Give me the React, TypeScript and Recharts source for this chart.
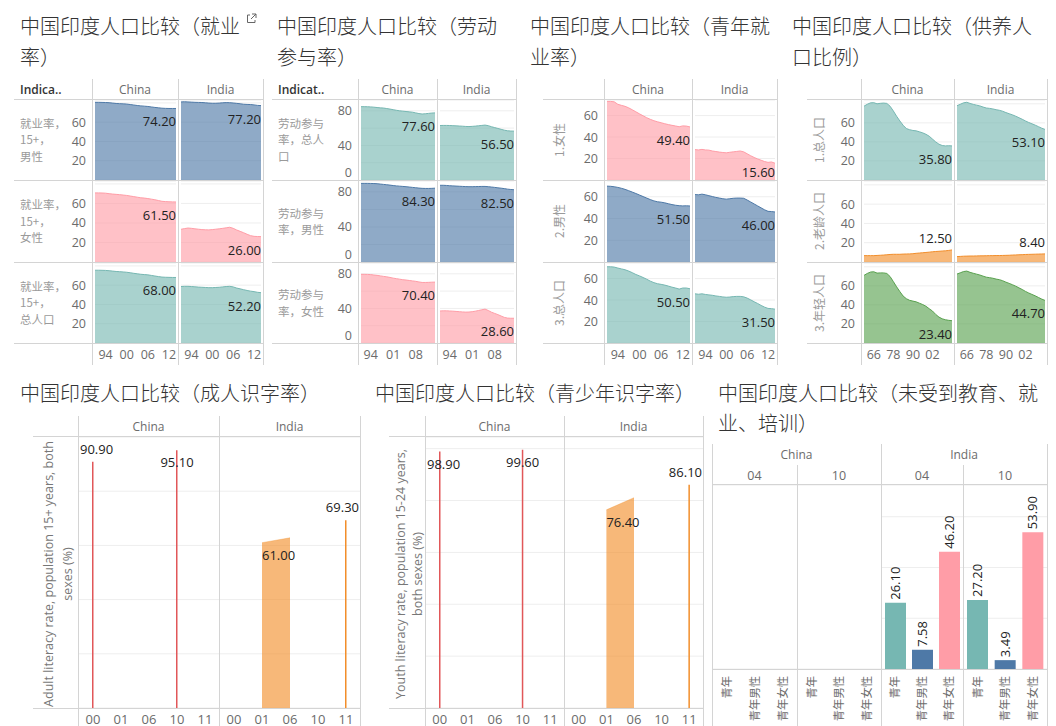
import React from "react";
import {
  AreaChart, Area, BarChart, Bar, Cell, ComposedChart,
  XAxis, YAxis, CartesianGrid, LabelList,
} from "recharts";

const SANS = "'Open Sans', 'Noto Sans CJK SC', sans-serif";
const CJK = "'Noto Sans CJK SC', 'Open Sans', sans-serif";

const BLUE = "#4e79a7";
const ORANGE = "#f28e2b";
const RED = "#e15759";
const TEAL = "#76b7b2";
const GREEN = "#59a14f";
const PINK = "#ff9da7";
const RULE = "#d4d4d4";
const FAINT = "#eeeeee";
const TICK = "#6b6b6b";
const ROWLBL = "#9a9a9a";
const INK = "#333333";

// ---------- data: employment / labour (1991-2014) ----------
const yearsLab = [1991, 1992, 1993, 1994, 1995, 1996, 1997, 1998, 1999, 2000, 2001, 2002,
  2003, 2004, 2005, 2006, 2007, 2008, 2009, 2010, 2011, 2012, 2013, 2014];

const empChinaMale = [80.6, 80.6, 80.5, 80.4, 80.2, 79.8, 79.4, 79.2, 79.0, 78.8, 78.3, 77.8,
  77.3, 76.9, 76.6, 76.3, 75.8, 75.3, 74.9, 74.5, 74.3, 74.2, 74.2, 74.2];
const empIndiaMale = [81.0, 81.2, 81.0, 80.8, 80.6, 80.5, 80.4, 80.1, 79.8, 79.6, 79.6, 79.8,
  80.1, 80.3, 80.2, 79.9, 79.5, 79.1, 78.6, 78.4, 78.3, 77.9, 77.4, 77.2];
const empChinaFemale = [70.8, 70.8, 70.7, 70.5, 70.0, 69.6, 69.3, 69.0, 68.6, 68.2, 67.6, 67.0,
  66.4, 65.8, 65.5, 65.0, 64.4, 63.8, 63.0, 62.2, 61.9, 61.7, 61.6, 61.5];
const empIndiaFemale = [33.5, 34.2, 34.8, 34.5, 34.0, 33.6, 33.2, 33.0, 32.9, 33.2, 33.6, 34.0,
  34.5, 35.0, 35.6, 34.5, 32.8, 31.4, 30.0, 28.4, 27.0, 26.3, 26.1, 26.0];
const empChinaTotal = [75.5, 75.5, 75.4, 75.3, 75.0, 74.6, 74.2, 74.0, 73.7, 73.4, 72.9, 72.3,
  71.8, 71.3, 71.0, 70.7, 70.1, 69.5, 68.9, 68.4, 68.2, 68.1, 68.0, 68.0];
const empIndiaTotal = [58.6, 58.8, 58.8, 58.6, 58.3, 58.0, 57.8, 57.6, 57.4, 57.4, 57.6, 57.8,
  58.2, 58.6, 58.8, 58.2, 57.0, 56.2, 55.3, 54.5, 53.8, 53.3, 52.6, 52.2];

const lfpChinaTotal = [84.8, 84.8, 84.7, 84.5, 84.2, 83.8, 83.4, 83.2, 82.6, 82.0, 81.3, 80.6,
  80.0, 79.6, 79.2, 78.8, 78.4, 77.6, 76.8, 76.3, 76.6, 77.0, 77.4, 77.6];
const lfpIndiaTotal = [63.0, 63.1, 63.1, 63.0, 62.8, 62.6, 62.4, 62.2, 61.9, 61.8, 62.0, 62.3,
  62.7, 63.1, 63.5, 62.8, 61.6, 60.6, 59.6, 58.6, 57.6, 56.9, 56.6, 56.5];
const lfpChinaMale = [89.8, 89.8, 89.8, 89.7, 89.6, 89.4, 89.0, 88.6, 88.2, 87.8, 87.3, 86.9,
  86.6, 86.3, 86.0, 85.6, 85.2, 84.8, 84.4, 84.1, 84.0, 84.0, 84.1, 84.3];
const lfpIndiaMale = [87.6, 87.6, 87.4, 87.1, 86.9, 86.7, 86.5, 86.3, 86.1, 86.0, 86.0, 86.1,
  86.2, 86.3, 86.3, 86.0, 85.6, 85.2, 84.7, 84.3, 83.8, 83.2, 82.8, 82.5];
const lfpChinaFemale = [79.4, 79.4, 79.3, 79.1, 78.6, 78.2, 77.6, 77.0, 76.5, 75.8, 75.0, 74.4,
  73.8, 73.2, 72.8, 72.3, 71.8, 71.3, 70.6, 70.0, 70.0, 70.1, 70.3, 70.4];
const lfpIndiaFemale = [37.0, 37.2, 37.2, 37.0, 36.8, 36.5, 36.2, 35.9, 35.7, 35.8, 36.2, 36.8,
  37.6, 38.4, 39.2, 37.6, 35.6, 34.2, 32.8, 31.2, 29.6, 28.8, 28.6, 28.6];

const youthChinaFemale = [73.2, 73.2, 72.8, 70.5, 69.5, 68.6, 67.2, 65.4, 63.5, 61.6, 59.8, 58.0,
  56.5, 55.2, 54.2, 53.3, 52.4, 51.6, 50.9, 50.3, 49.6, 50.4, 50.2, 49.4];
const youthIndiaFemale = [28.3, 28.0, 28.5, 28.0, 27.8, 27.0, 26.5, 26.0, 25.6, 25.3, 25.8, 26.2,
  26.6, 27.0, 26.2, 24.4, 22.6, 21.0, 19.6, 18.4, 17.2, 16.4, 16.8, 15.6];
const youthChinaMale = [69.8, 69.6, 69.2, 68.6, 67.8, 66.8, 65.6, 64.3, 63.0, 61.6, 60.2, 58.8,
  57.4, 56.2, 55.4, 55.0, 54.4, 53.6, 52.8, 52.2, 51.8, 51.6, 51.7, 51.5];
const youthIndiaMale = [62.0, 61.8, 62.4, 61.8, 61.0, 60.2, 59.4, 58.8, 58.2, 57.8, 58.2, 58.6,
  58.8, 58.8, 58.6, 57.0, 55.2, 53.4, 51.6, 49.8, 48.0, 46.6, 46.4, 46.0];
const youthChinaTotal = [71.0, 71.0, 70.7, 69.8, 69.0, 68.2, 67.0, 65.5, 63.8, 62.5, 61.0, 59.4,
  57.6, 56.2, 55.2, 54.6, 53.9, 53.0, 52.0, 51.2, 50.2, 51.2, 51.2, 50.5];
const youthIndiaTotal = [45.8, 45.4, 45.8, 45.2, 44.8, 44.4, 43.8, 43.4, 42.9, 42.6, 42.8, 43.2,
  43.4, 43.4, 43.0, 41.8, 40.2, 38.4, 36.8, 35.0, 33.4, 32.2, 32.0, 31.5];

// ---------- data: dependency ratio (1960-2014) ----------
const yearsDep = [1960, 1962, 1964, 1966, 1968, 1970, 1972, 1974, 1976, 1978, 1980, 1982, 1984, 1986,
  1988, 1990, 1992, 1994, 1996, 1998, 2000, 2002, 2004, 2006, 2008, 2010, 2012, 2014];

const depChinaTotal = [77.5, 79.5, 81.0, 81.2, 80.0, 80.5, 80.8, 80.4, 77.5, 72.5, 67.0, 62.0, 57.5, 54.0,
  52.8, 52.0, 51.6, 50.6, 49.5, 48.0, 46.0, 43.0, 40.0, 37.6, 36.2, 35.8, 36.0, 35.8];
const depIndiaTotal = [78.0, 79.5, 81.0, 81.6, 80.4, 79.4, 78.6, 77.8, 76.6, 75.6, 75.2, 74.6, 73.8, 73.2,
  72.2, 70.8, 69.6, 68.4, 67.0, 65.4, 63.8, 62.0, 60.4, 59.0, 57.6, 56.0, 54.4, 53.1];
const depChinaOld = [6.6, 6.6, 6.6, 6.6, 6.8, 7.0, 7.2, 7.5, 7.8, 8.0, 8.0, 8.0, 8.2, 8.3,
  8.4, 8.6, 9.0, 9.3, 9.6, 9.9, 10.2, 10.6, 10.9, 11.1, 11.4, 11.6, 12.0, 12.5];
const depIndiaOld = [5.6, 5.8, 6.0, 6.1, 6.2, 6.2, 6.3, 6.4, 6.4, 6.5, 6.6, 6.6, 6.7, 6.7,
  6.8, 6.9, 7.0, 7.2, 7.3, 7.5, 7.6, 7.8, 7.9, 8.0, 8.1, 8.2, 8.3, 8.4];
const depChinaYoung = [71.0, 73.0, 74.5, 74.8, 73.4, 73.6, 73.6, 73.0, 69.8, 64.5, 59.0, 54.0, 49.3, 46.5,
  44.8, 44.0, 43.2, 41.8, 40.4, 38.6, 36.0, 33.6, 30.0, 27.2, 25.4, 24.4, 23.8, 23.4];
const depIndiaYoung = [72.4, 73.7, 75.0, 75.5, 74.2, 73.2, 72.3, 71.4, 70.2, 69.1, 68.6, 68.0, 67.1, 66.5,
  65.4, 63.9, 62.6, 61.2, 59.7, 57.9, 56.2, 54.2, 52.5, 51.0, 49.5, 47.8, 46.1, 44.7];

// ---------- data: literacy ----------
const litCats = ["00", "01", "06", "10", "11"];
const adultChina = [90.9, null, null, 95.1, null];
const adultIndia = [null, 61.0, 62.8, null, 69.3];
const youthLitChina = [98.9, null, null, 99.6, null];
const youthLitIndia = [null, 76.4, 81.1, null, 86.1];

// ---------- data: NEET ----------
const neetCats = ["青年", "青年男性", "青年女性"];
const neetColors = [TEAL, BLUE, PINK];
const neetChina04 = [null, null, null];
const neetChina10 = [null, null, null];
const neetIndia04 = [26.1, 7.58, 46.2];
const neetIndia10 = [27.2, 3.49, 53.9];

// ---------- helpers ----------
const HLine = ({ x1, x2, y }: any) => (
  <div style={{ position: "absolute", left: x1, top: y, width: x2 - x1, height: 1, background: RULE }} />
);
const VLine = ({ x, y1, y2 }: any) => (
  <div style={{ position: "absolute", left: x, top: y1, width: 1, height: y2 - y1, background: RULE }} />
);
const Txt = ({ x, y, children, size = 12.5, color = TICK, align = "center", weight = 400, font = SANS }: any) => {
  const tx = align === "center" ? "-50%" : align === "right" ? "-100%" : "0";
  return (
    <div style={{
      position: "absolute", left: x, top: y, transform: `translate(${tx}, -50%)`,
      fontSize: size, color, fontWeight: weight, fontFamily: font, whiteSpace: "nowrap", lineHeight: 1.2,
    }}>{children}</div>
  );
};
const Title = ({ x, y, lines, lh }: any) => (
  <div style={{
    position: "absolute", left: x, top: y, fontFamily: CJK, fontSize: 20, fontWeight: 300,
    color: INK, lineHeight: `${lh}px`, whiteSpace: "nowrap",
  }}>
    {lines.map((l: string) => <div key={l}>{l}</div>)}
  </div>
);

const NoTick = () => <g />;

const YTick = (props: any) => {
  const { x, y, payload, labeled } = props;
  if (!labeled.includes(payload.value)) return <g />;
  const shift = payload.value === 0 ? -8 : 0;
  return (
    <text x={x} y={y + shift} dy={4.5} textAnchor="end" fill={TICK} fontSize={12.5} fontFamily={SANS}>
      {payload.value}
    </text>
  );
};

function EndLabel(props: any) {
  const { x, y, value, index, lastIdx, plotH } = props;
  if (index !== lastIdx || value == null || y == null) return null;
  let ly = Math.min(y + 13.5, plotH - 8);
  if (ly - y < 8) ly = y - 11;
  return (
    <text x={x} y={ly} dy={4.5} textAnchor="end" fill="#222" fontSize={13} fontFamily={SANS}>
      {Number(value).toFixed(2)}
    </text>
  );
}

// ---------- top small-multiple panels ----------
interface RowCfg { label: string[]; color: string; china: number[]; india: number[] }
interface TopCfg {
  title: string[]; titleX: number; header?: string; rowLabelX: number; rotated: boolean;
  ruleLeft: number; cols: number[]; years: number[]; yMax: number; grid: number[];
  labeled: number[]; xTicks: number[]; rows: RowCfg[]; link?: boolean;
}
const ROW_Y = [99, 180, 262, 343];

function AreaCell({ values, color, cfg, x, y, w, h, first, last }: any) {
  const data = cfg.years.map((yr: number, i: number) => ({ yr, v: values[i] }));
  const yW = first ? 40 : 0;
  const axisH = last ? 24 : 0;
  const lastIdx = data.length - 1;
  return (
    <div style={{ position: "absolute", left: x - yW, top: y }}>
      <AreaChart width={w + yW} height={h + axisH} data={data} margin={{ top: 0, right: 2, bottom: 0, left: 2 }}>
        <CartesianGrid vertical={false} stroke={FAINT} />
        <XAxis
          dataKey="yr" type="number" domain={[cfg.years[0], cfg.years[lastIdx]]}
          ticks={cfg.xTicks} hide={!last} height={axisH} interval={0}
          tickFormatter={(v) => String(v).slice(2)}
          axisLine={false} tickLine={false} tickSize={0} tickMargin={7}
          tick={{ fill: TICK, fontSize: 12.5, fontFamily: SANS }}
        />
        <YAxis
          type="number" domain={[0, cfg.yMax]} ticks={cfg.grid} width={yW} interval={0}
          axisLine={false} tickLine={false} tickSize={0} tickMargin={9} allowDataOverflow
          tick={first ? <YTick labeled={cfg.labeled} /> : <NoTick />}
        />
        <Area
          type="linear" dataKey="v" stroke={color} strokeWidth={1} fill={color} fillOpacity={0.63}
          isAnimationActive={false} dot={false} activeDot={false}
        >
          <LabelList dataKey="v" content={(p: any) => <EndLabel {...p} lastIdx={lastIdx} plotH={h} />} />
        </Area>
      </AreaChart>
    </div>
  );
}

function TopPanel({ cfg }: { cfg: TopCfg }) {
  const [x0, x1, x2] = cfg.cols;
  return (
    <>
      <Title x={cfg.titleX} y={10} lines={cfg.title} lh={31} />
      {cfg.link && (
        <svg style={{ position: "absolute", left: 246, top: 13 }} width={11} height={11} viewBox="0 0 11 11">
          <path d="M4 2 H1.5 V9.5 H9 V7" fill="none" stroke="#666" strokeWidth={1} />
          <path d="M6 1 H10 V5 M10 1 L5 6" fill="none" stroke="#666" strokeWidth={1} />
        </svg>
      )}
      {cfg.header && <Txt x={cfg.rowLabelX} y={90} align="left" color={INK} weight={600} size={12}>{cfg.header}</Txt>}
      <Txt x={(x0 + x1) / 2} y={90} size={12}>China</Txt>
      <Txt x={(x1 + x2) / 2} y={90} size={12}>India</Txt>
      {cfg.rows.map((r, i) => {
        const top = ROW_Y[i] + 1;
        const h = ROW_Y[i + 1] - ROW_Y[i] - 1;
        const last = i === cfg.rows.length - 1;
        const cy = (ROW_Y[i] + ROW_Y[i + 1]) / 2;
        return (
          <React.Fragment key={i}>
            <AreaCell values={r.china} color={r.color} cfg={cfg} x={x0 + 1} y={top} w={x1 - x0 - 1} h={h} first last={last} />
            <AreaCell values={r.india} color={r.color} cfg={cfg} x={x1 + 1} y={top} w={x2 - x1 - 1} h={h} first={false} last={last} />
            {cfg.rotated ? (
              <div style={{
                position: "absolute", left: cfg.rowLabelX, top: cy, transform: "translate(-50%, -50%) rotate(-90deg)",
                fontFamily: CJK, fontSize: 12, color: ROWLBL, whiteSpace: "nowrap",
              }}>{r.label.join("")}</div>
            ) : (
              <div style={{
                position: "absolute", left: cfg.rowLabelX, top: cy - (r.label.length * 16.5) / 2,
                fontFamily: CJK, fontSize: 11.5, color: ROWLBL, lineHeight: "16.5px", whiteSpace: "nowrap",
              }}>
                {r.label.map((l) => <div key={l}>{l}</div>)}
              </div>
            )}
          </React.Fragment>
        );
      })}
      {ROW_Y.map((y) => <HLine key={y} x1={cfg.ruleLeft} x2={x2 + 1} y={y} />)}
      {cfg.cols.map((x) => <VLine key={x} x={x} y1={79} y2={365} />)}
    </>
  );
}

const panels: TopCfg[] = [
  {
    title: ["中国印度人口比较（就业", "率）"], titleX: 20, header: "Indica..", rowLabelX: 20, rotated: false,
    ruleLeft: 14, cols: [92, 178, 263], years: yearsLab, yMax: 83, grid: [20, 40, 60, 80],
    labeled: [20, 40, 60], xTicks: [1994, 2000, 2006, 2012], link: true,
    rows: [
      { label: ["就业率，", "15+，", "男性"], color: BLUE, china: empChinaMale, india: empIndiaMale },
      { label: ["就业率，", "15+，", "女性"], color: PINK, china: empChinaFemale, india: empIndiaFemale },
      { label: ["就业率，", "15+，", "总人口"], color: TEAL, china: empChinaTotal, india: empIndiaTotal },
    ],
  },
  {
    title: ["中国印度人口比较（劳动", "参与率）"], titleX: 277, header: "Indicat..", rowLabelX: 278, rotated: false,
    ruleLeft: 272, cols: [358, 437, 516], years: yearsLab, yMax: 92.5, grid: [0, 20, 40, 60, 80],
    labeled: [0, 40, 80], xTicks: [1994, 2001, 2008],
    rows: [
      { label: ["劳动参与", "率，总人", "口"], color: TEAL, china: lfpChinaTotal, india: lfpIndiaTotal },
      { label: ["劳动参与", "率，男性"], color: BLUE, china: lfpChinaMale, india: lfpIndiaMale },
      { label: ["劳动参与", "率，女性"], color: PINK, china: lfpChinaFemale, india: lfpIndiaFemale },
    ],
  },
  {
    title: ["中国印度人口比较（青年就", "业率）"], titleX: 530, rowLabelX: 558, rotated: true,
    ruleLeft: 543, cols: [604, 692, 777], years: yearsLab, yMax: 74.5, grid: [20, 40, 60],
    labeled: [20, 40, 60], xTicks: [1994, 2000, 2006, 2012],
    rows: [
      { label: ["1.女性"], color: PINK, china: youthChinaFemale, india: youthIndiaFemale },
      { label: ["2.男性"], color: BLUE, china: youthChinaMale, india: youthIndiaMale },
      { label: ["3.总人口"], color: TEAL, china: youthChinaTotal, india: youthIndiaTotal },
    ],
  },
  {
    title: ["中国印度人口比较（供养人", "口比例）"], titleX: 792, rowLabelX: 818, rotated: true,
    ruleLeft: 807, cols: [861, 954, 1047], years: yearsDep, yMax: 84, grid: [20, 40, 60, 80],
    labeled: [20, 40, 60], xTicks: [1966, 1978, 1990, 2002],
    rows: [
      { label: ["1.总人口"], color: TEAL, china: depChinaTotal, india: depIndiaTotal },
      { label: ["2.老龄人口"], color: ORANGE, china: depChinaOld, india: depIndiaOld },
      { label: ["3.年轻人口"], color: GREEN, china: depChinaYoung, india: depIndiaYoung },
    ],
  },
];

// ---------- literacy panels ----------
const LIT_TOP = 437;
const LIT_BOTTOM = 708;

function LitLabel(props: any) {
  const { x, y, value, index, vals, w } = props;
  if (value == null || y == null || x == null) return null;
  const prev = index > 0 ? vals[index - 1] : null;
  const next = index < vals.length - 1 ? vals[index + 1] : null;
  const txt = Number(value).toFixed(2);
  const style = { fill: "#222", fontSize: 13, fontFamily: SANS };
  if (prev == null && next != null) {
    return <text x={x} y={y + 13} dy={4.5} textAnchor="start" {...style}>{txt}</text>;
  }
  if (prev != null || next != null) return null;
  const ly = y - 20 >= 0 ? y - 12.5 : y + 12.5;
  const tw = 34;
  let lx = x;
  let anchor = "middle";
  if (x - tw / 2 < 0) { lx = 1; anchor = "start"; }
  else if (x + tw / 2 > w) { lx = w - 1; anchor = "end"; }
  return <text x={lx} y={ly} dy={4.5} textAnchor={anchor} {...style}>{txt}</text>;
}

function LitPane({ values, color, x, w, yMax, grid }: any) {
  const data = litCats.map((c, i) => ({ c, v: values[i] }));
  const h = LIT_BOTTOM - LIT_TOP;
  return (
    <div style={{ position: "absolute", left: x, top: LIT_TOP }}>
      <ComposedChart width={w} height={h + 26} data={data} margin={{ top: 0, right: 0, bottom: 0, left: 0 }}>
        <CartesianGrid vertical={false} stroke={FAINT} />
        <XAxis
          dataKey="c" height={26} interval={0} axisLine={false} tickLine={false} tickSize={0} tickMargin={7}
          tick={{ fill: TICK, fontSize: 13, fontFamily: SANS }}
        />
        <YAxis domain={[0, yMax]} ticks={grid} width={0} interval={0} tick={<NoTick />} axisLine={false} tickLine={false} allowDataOverflow />
        <Bar dataKey="v" barSize={1.5} fill={color} isAnimationActive={false}>
          {values.map((v: any, i: number) => {
            const isolated = v != null && values[i - 1] == null && values[i + 1] == null;
            return <Cell key={i} fill={color} fillOpacity={isolated ? 1 : 0} />;
          })}
        </Bar>
        <Area
          type="linear" dataKey="v" stroke={color} strokeOpacity={0.35} fill={color} fillOpacity={0.63}
          isAnimationActive={false} dot={false} activeDot={false}
        >
          <LabelList dataKey="v" content={(p: any) => <LitLabel {...p} vals={values} w={w} />} />
        </Area>
      </ComposedChart>
    </div>
  );
}

function LitPanel({ title, titleX, axisTitle, axisX, ruleLeft, cols, yMax, grid, china, india }: any) {
  const [x0, x1, x2] = cols;
  const mid = (LIT_TOP + LIT_BOTTOM) / 2 + 1;
  return (
    <>
      <Title x={titleX} y={378} lines={[title]} lh={30} />
      <Txt x={(x0 + x1) / 2} y={427} size={12}>China</Txt>
      <Txt x={(x1 + x2) / 2} y={427} size={12}>India</Txt>
      {axisTitle.map((t: string, i: number) => (
        <div key={t} style={{
          position: "absolute", left: axisX[i], top: mid, transform: "translate(-50%, -50%) rotate(-90deg)",
          fontFamily: SANS, fontSize: 12.5, color: "#777", whiteSpace: "nowrap",
        }}>{t}</div>
      ))}
      <LitPane values={china} color={RED} x={x0 + 1} w={x1 - x0 - 1} yMax={yMax} grid={grid} />
      <LitPane values={india} color={ORANGE} x={x1 + 1} w={x2 - x1 - 1} yMax={yMax} grid={grid} />
      <HLine x1={ruleLeft} x2={x2 + 1} y={LIT_TOP - 1} />
      <HLine x1={ruleLeft} x2={x2 + 1} y={LIT_BOTTOM} />
      {cols.map((x: number) => <VLine key={x} x={x} y1={416} y2={726} />)}
    </>
  );
}

// ---------- NEET panel ----------
const NEET_TOP = 485;
const NEET_BOTTOM = 669;

const NeetTick = (props: any) => {
  const { x, y, payload } = props;
  return (
    <text transform={`translate(${x},${y}) rotate(-90)`} textAnchor="end" dy="0.35em"
      fill={TICK} fontSize={11.3} fontFamily={CJK}>{payload.value}</text>
  );
};

const NeetLabel = (props: any) => {
  const { x, y, width, value } = props;
  if (value == null || y == null) return null;
  return (
    <text transform={`translate(${x + width / 2},${y - 3}) rotate(-90)`} textAnchor="start" dy="0.35em"
      fill="#222" fontSize={13} fontFamily={SANS}>{Number(value).toFixed(2)}</text>
  );
};

function NeetPane({ values, x, w }: any) {
  const data = neetCats.map((c, i) => ({ c, v: values[i] }));
  return (
    <div style={{ position: "absolute", left: x, top: NEET_TOP }}>
      <BarChart width={w} height={NEET_BOTTOM - NEET_TOP + 57} data={data} margin={{ top: 0, right: 0, bottom: 0, left: 0 }}>
        <CartesianGrid vertical={false} stroke={FAINT} />
        <XAxis dataKey="c" height={57} interval={0} axisLine={false} tickLine={false} tickSize={0} tickMargin={7} tick={<NeetTick />} />
        <YAxis domain={[0, 72.5]} ticks={[20, 40, 60]} width={0} interval={0} tick={<NoTick />} axisLine={false} tickLine={false} />
        <Bar dataKey="v" barSize={21} isAnimationActive={false}>
          {data.map((d, i) => <Cell key={d.c} fill={neetColors[i]} />)}
          <LabelList dataKey="v" content={NeetLabel} />
        </Bar>
      </BarChart>
    </div>
  );
}

function NeetPanel() {
  const xs = [712, 797, 881, 963, 1047];
  const panes = [neetChina04, neetChina10, neetIndia04, neetIndia10];
  const sub = ["04", "10", "04", "10"];
  return (
    <>
      <Title x={718} y={378} lines={["中国印度人口比较（未受到教育、就", "业、培训）"]} lh={30} />
      <Txt x={(xs[0] + xs[2]) / 2} y={455} size={12}>China</Txt>
      <Txt x={(xs[2] + xs[4]) / 2} y={455} size={12}>India</Txt>
      {sub.map((s, i) => <Txt key={i} x={(xs[i] + xs[i + 1]) / 2} y={475} size={12.5}>{s}</Txt>)}
      {panes.map((p, i) => <NeetPane key={i} values={p} x={xs[i] + 1} w={xs[i + 1] - xs[i] - 1} />)}
      <HLine x1={712} x2={1048} y={NEET_TOP - 1} />
      <HLine x1={712} x2={1048} y={NEET_BOTTOM} />
      <VLine x={xs[0]} y1={444} y2={726} />
      <VLine x={xs[2]} y1={444} y2={726} />
      <VLine x={xs[4]} y1={444} y2={726} />
      <VLine x={xs[1]} y1={465} y2={726} />
      <VLine x={xs[3]} y1={465} y2={726} />
    </>
  );
}

export default function App() {
  return (
    <div style={{
      position: "absolute", left: 0, top: 0, width: 1056, height: 726, overflow: "hidden",
      background: "#fff", fontFamily: SANS,
    }}>
      {panels.map((p) => <TopPanel key={p.titleX} cfg={p} />)}
      <LitPanel
        title="中国印度人口比较（成人识字率）" titleX={20}
        axisTitle={["Adult literacy rate, population 15+ years, both", "sexes (%)"]} axisX={[48, 67]}
        ruleLeft={33} cols={[78, 219, 360]} yMax={100} grid={[20, 40, 60, 80]}
        china={adultChina} india={adultIndia}
      />
      <LitPanel
        title="中国印度人口比较（青少年识字率）" titleX={375}
        axisTitle={["Youth literacy rate, population 15-24 years,", "both sexes (%)"]} axisX={[400, 417]}
        ruleLeft={389} cols={[425, 564, 703]} yMax={104.5} grid={[20, 40, 60, 80, 100]}
        china={youthLitChina} india={youthLitIndia}
      />
      <NeetPanel />
    </div>
  );
}
